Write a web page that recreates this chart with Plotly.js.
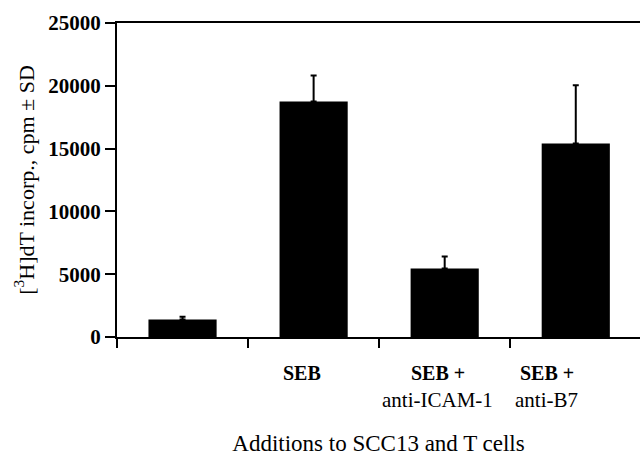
<!DOCTYPE html>
<html>
<head>
<meta charset="utf-8">
<script src="https://cdn.plot.ly/plotly-3.0.1.min.js"></script>
<style>html,body{margin:0;padding:0;background:#fff;}#chart{width:640px;height:456px;}</style>
</head>
<body>
<div id="chart"></div>
<script>
// Data
const categories = ["Control", "SEB", "SEB + anti-ICAM-1", "SEB + anti-B7"];
const tickLine1 = ["", "SEB", "SEB +", "SEB +"];
const tickLine2 = ["", "", "anti-ICAM-1", "anti-B7"];
const cpm = [1400, 18750, 5450, 15400];
const sd = [220, 2080, 960, 4650];
const yTickVals = [0, 5000, 10000, 15000, 20000, 25000];
const yTickText = ["0", "5000", "10000", "15000", "20000", "25000"];

const serif = "Liberation Serif, Times New Roman, serif";
const labelShift = [0, -12, -7, -29];

const annotations = [];
categories.forEach((c, i) => {
  if (tickLine1[i]) annotations.push({
    x: i, xref: "x", y: 0, yref: "paper", yanchor: "middle", xanchor: "center",
    yshift: -36, xshift: labelShift[i], showarrow: false, text: tickLine1[i],
    font: {family: serif, size: 20, color: "#000", weight: "bold"}
  });
  if (tickLine2[i]) annotations.push({
    x: i, xref: "x", y: 0, yref: "paper", yanchor: "middle", xanchor: "center",
    yshift: -63, xshift: labelShift[i], showarrow: false, text: tickLine2[i],
    font: {family: serif, size: 21, color: "#000"}
  });
});

const trace = {
  type: "bar",
  x: categories.map((c, i) => i),
  y: cpm,
  marker: {color: "#000", line: {width: 0}},
  error_y: {type: "data", array: sd, arrayminus: sd.map(() => 0), color: "#000", thickness: 2, width: 3},
  width: 0.52,
  hoverinfo: "none"
};

const layout = {
  width: 640, height: 456,
  margin: {l: 117, r: 0, t: 23, b: 119},
  paper_bgcolor: "#fff", plot_bgcolor: "#fff",
  showlegend: false,
  font: {family: serif, color: "#000"},
  xaxis: {
    type: "linear", range: [-0.5, 3.49],
    tickvals: [-0.5, 0.5, 1.5, 2.5],
    showticklabels: false,
    ticks: "outside", ticklen: 9, tickwidth: 2, tickcolor: "#000",
    showline: true, linecolor: "#000", linewidth: 2, mirror: true,
    showgrid: false, zeroline: false,
    title: {text: "Additions to SCC13 and T cells", font: {family: serif, size: 23, color: "#000"}, standoff: 93}
  },
  yaxis: {
    range: [0, 25000],
    tickvals: yTickVals, ticktext: yTickText,
    ticks: "outside", ticklen: 10, tickwidth: 2, tickcolor: "#000",
    tickfont: {family: serif, size: 21, color: "#000", weight: "bold"},
    showline: true, linecolor: "#000", linewidth: 2,
    showgrid: false, zeroline: false,
    title: {text: "[<sup>3</sup>H]dT incorp., cpm ± SD", font: {family: serif, size: 22, color: "#000"}, standoff: 8}
  },
  annotations: annotations
};

Plotly.newPlot("chart", [trace], layout, {staticPlot: true, displayModeBar: false});
</script>
</body>
</html>
